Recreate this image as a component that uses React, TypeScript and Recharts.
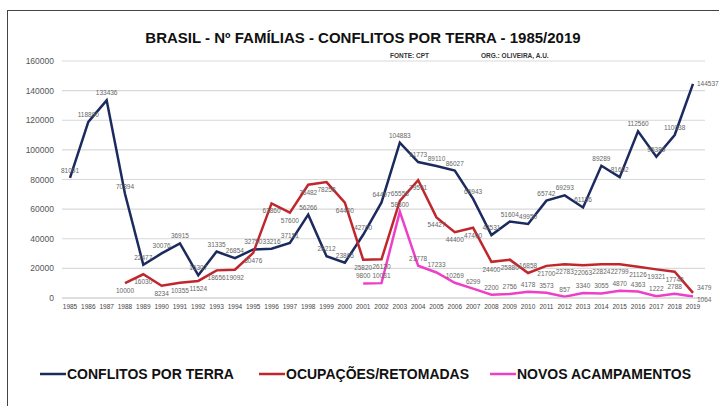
import React from 'react';
import { LineChart, Line, XAxis, YAxis, CartesianGrid, LabelList } from 'recharts';

const years = [
  '1985', '1986', '1987', '1988', '1989', '1990', '1991', '1992', '1993', '1994',
  '1995', '1996', '1997', '1998', '1999', '2000', '2001', '2002', '2003', '2004',
  '2005', '2006', '2007', '2008', '2009', '2010', '2011', '2012', '2013', '2014',
  '2015', '2016', '2017', '2018', '2019',
];

// CONFLITOS POR TERRA
const conflitos = [
  81091, 118890, 133436, 70394, 22477, 30076, 36915, 15307, 31335, 26854,
  32750, 33216, 37151, 56266, 28212, 23865, 42700, 64497, 104883, 91773,
  89110, 86027, 66943, 42531, 51604, 49950, 65742, 69293, 61136, 89289,
  81602, 112560, 95389, 110038, 144537,
];

// OCUPAÇÕES/RETOMADAS
const ocupacoes = [
  null, null, null, 10000, 16030, 8234, 10355, 11524, 18656, 19092,
  30476, 63860, 57600, 76482, 78258, 64400, 25820, 26120, 65558, 79591,
  54427, 44400, 47400, 24400, 25880, 16858, 21700, 22783, 22063, 22824,
  22799, 21126, 19321, 17748, 3479,
];

// NOVOS ACAMPAMENTOS
const acampamentos = [
  null, null, null, null, null, null, null, null, null, null,
  null, null, null, null, null, null, 9800, 10031, 58300, 21778,
  17233, 10269, 6299, 2200, 2756, 4178, 3573, 857, 3340, 3055,
  4870, 4363, 1222, 2788, 1064,
];

const yTicks = [0, 20000, 40000, 60000, 80000, 100000, 120000, 140000, 160000];

const data = years.map((year, i) => ({
  year,
  conflitos: conflitos[i],
  ocupacoes: ocupacoes[i],
  acampamentos: acampamentos[i],
}));

const FONT = '"Liberation Sans", Arial, sans-serif';
const BLUE = '#1c2b5f';
const RED = '#c0272d';
const PINK = '#ee3fc8';
const LAST = years.length - 1;

// dy = vertical shift of the label, lastDy = shift for the final (2019) label drawn to the right,
// flip = indexes where the label goes on the other side of the line
const makeLabel = (dy: number, lastDy: number, flip: number[] = []) => (props: any) => {
  const { x, y, value, index } = props;
  if (value == null) return null;
  const last = index === LAST;
  const d = flip.includes(index) ? (dy > 0 ? -5 : 10) : dy;
  return (
    <text
      x={last ? x + 4 : x}
      y={last ? y + lastDy : y + d}
      fontSize={6.5}
      fill="#666"
      textAnchor={last ? 'start' : 'middle'}
      fontFamily={FONT}
    >
      {value}
    </text>
  );
};

const legendItems = [
  { label: 'CONFLITOS POR TERRA', color: BLUE, x: 40 },
  { label: 'OCUPAÇÕES/RETOMADAS', color: RED, x: 259 },
  { label: 'NOVOS ACAMPAMENTOS', color: PINK, x: 490 },
];

export default function App() {
  return (
    <div style={{ position: 'absolute', left: 0, top: 0, width: 719, height: 406, background: '#fff', overflow: 'hidden' }}>
      <div
        style={{
          position: 'absolute', left: 7, top: 10, width: 730, height: 420,
          borderLeft: '1.5px solid #444', borderTop: '1.5px solid #444',
        }}
      />
      <LineChart
        width={719}
        height={406}
        data={data}
        margin={{ top: 61, right: 14, bottom: 78, left: 0 }}
        style={{ position: 'absolute', left: 0, top: 0 }}
      >
        <CartesianGrid vertical={false} stroke="#d9d9d9" strokeWidth={1.2} />
        <XAxis
          dataKey="year"
          height={30}
          interval={0}
          padding={{ left: 8, right: 12 }}
          tickLine={false}
          axisLine={{ stroke: '#d0d0d0' }}
          tickMargin={0}
          tick={{ fontSize: 6.5, fill: '#444', fontFamily: FONT }}
        />
        <YAxis
          width={62}
          domain={[0, 160000]}
          ticks={yTicks}
          interval={0}
          tickLine={false}
          axisLine={false}
          tick={{ fontSize: 8.5, fill: '#555', fontFamily: FONT }}
        />
        <Line
          dataKey="conflitos"
          stroke={BLUE}
          strokeWidth={2.5}
          dot={false}
          isAnimationActive={false}
        >
          <LabelList dataKey="conflitos" content={makeLabel(-5, 2)} />
        </Line>
        <Line
          dataKey="ocupacoes"
          stroke={RED}
          strokeWidth={2.5}
          dot={false}
          isAnimationActive={false}
        >
          <LabelList dataKey="ocupacoes" content={makeLabel(10, -3, [18, 25])} />
        </Line>
        <Line
          dataKey="acampamentos"
          stroke={PINK}
          strokeWidth={2.5}
          dot={false}
          isAnimationActive={false}
        >
          <LabelList dataKey="acampamentos" content={makeLabel(-5, 6)} />
        </Line>
      </LineChart>
      <svg width={719} height={406} style={{ position: 'absolute', left: 0, top: 0, pointerEvents: 'none' }}>
        <text x={363} y={43} textAnchor="middle" fontSize={15} fontWeight="bold" fill="#111" fontFamily={FONT}>
          BRASIL - Nº FAMÍLIAS - CONFLITOS POR TERRA - 1985/2019
        </text>
        <text x={390} y={58} fontSize={6.5} fontWeight="bold" fill="#333" fontFamily={FONT}>
          FONTE: CPT
        </text>
        <text x={481} y={58} fontSize={6.5} fontWeight="bold" fill="#333" fontFamily={FONT}>
          ORG.: OLIVEIRA, A.U.
        </text>
        {legendItems.map((it) => (
          <g key={it.label}>
            <line x1={it.x} x2={it.x + 26} y1={374} y2={374} stroke={it.color} strokeWidth={2.5} />
            <text x={it.x + 27} y={379} fontSize={14} fontWeight="bold" fill="#111" fontFamily={FONT}>
              {it.label}
            </text>
          </g>
        ))}
      </svg>
    </div>
  );
}
